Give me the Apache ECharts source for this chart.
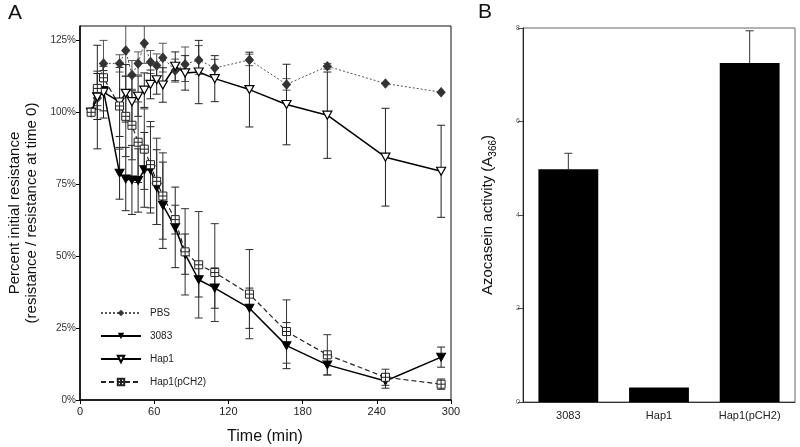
<!DOCTYPE html>
<html><head><meta charset="utf-8">
<script src="https://cdn.jsdelivr.net/npm/echarts@6/dist/echarts.min.js"></script>
<style>html,body{margin:0;padding:0;background:#fff}#c{width:800px;height:447px}</style>
</head><body><div id="c"></div>
<script>
// ---- Panel A data ----
const times = [9,14,19,32,37,42,47,52,57,62,67,77,85,96,109,137,167,200,247,292];
const pbs = [100,105,117,117,121.5,113,117,124,117.5,116.3,119,114.5,116.7,118.2,115.4,118.2,109.7,116,110,107];
const pbsErr = [0,4,8,3,9,5,4,7,4,4,5,4,6,5,3,2,2,1,0,0];
const hap1 = [100,105.3,107,103.6,106.6,103.7,105.6,107.7,109.7,111.3,109.5,116,113.7,114,111.7,107.9,102.7,99,84.4,79.5];
const hap1Err = [0,18,9,12,10,9,7,6,5,5,6,5,6,11,8,13,14,15,17,16];
const s3083 = [100,105.5,107.5,78.8,76.8,76.5,76.3,80,80,74,67.7,60,50.7,41.8,38.9,31.9,18.9,12.2,6.6,14.9];
const s3083Err = [0,8,7,9,11,12,11,13,15,13,15,14,7,6,7,7,8,3.5,2.5,3.5];
const pch2 = [100,108.3,112,102.2,98.6,95.5,89.6,87.2,81.8,76,70.9,62.7,51.5,47,44.3,36.8,23.8,15.7,7.9,5.5];
const pch2Err = [0,6,5,15,14,12,14,14,15,15,15,5,15,18.5,17,15.5,11,7,2.8,1.8];
const seriesNames = ['PBS','3083','Hap1','Hap1(pCH2)'];
const xTicksA = [0,60,120,180,240,300];
const yTicksA = [0,25,50,75,100,125];
// ---- Panel B data ----
const barCats = ['3083','Hap1','Hap1(pCH2)'];
const barVals = [4.98,0.31,7.25];
const barErr = [0.34,0,0.69];
const yTicksB = [0,2,4,6,8];

const FONT = '"Liberation Sans", Arial, Helvetica, sans-serif';
const triDown = 'path://M0,0L10,0L5,9Z';
const sqCross = 'path://M0,0H10V10H0Z M5,0V10 M0,5H10';

function pairs(v){ return times.map((t,i)=>[t, v[i]]); }
function triples(v,e){ return times.map((t,i)=>[t, v[i], e[i]]); }

function errRender(color, capW, upOnly){
  return function(params, api){
    const x = api.value(0), y = api.value(1), e = api.value(2);
    if (!e) return null;
    const top = api.coord([x, y + e]);
    const bot = upOnly ? api.coord([x, y]) : api.coord([x, y - e]);
    const hw = capW / 2;
    const st = {stroke: color, lineWidth: 1};
    const ch = [
      {type:'line', shape:{x1:top[0], y1:top[1], x2:bot[0], y2:bot[1]}, style:st},
      {type:'line', shape:{x1:top[0]-hw, y1:top[1], x2:top[0]+hw, y2:top[1]}, style:st}
    ];
    if (!upOnly) ch.push({type:'line', shape:{x1:bot[0]-hw, y1:bot[1], x2:bot[0]+hw, y2:bot[1]}, style:st});
    return {type:'group', children: ch};
  };
}

function errSeries(v, e, color){
  return {type:'custom', xAxisIndex:0, yAxisIndex:0, data: triples(v,e), renderItem: errRender(color, 8, false), z: 1, silent:true, clip:true};
}

const chart = echarts.init(document.getElementById('c'), null, {renderer:'canvas'});
chart.setOption({
  animation: false,
  backgroundColor: '#fff',
  textStyle: {fontFamily: FONT},
  grid: [
    {left: 80, right: 349, top: 26, bottom: 47, show: true, borderColor: '#111', borderWidth: 1, containLabel:false},
    {left: 523, right: 5, top: 28, bottom: 45, show: true, borderColor: '#666', borderWidth: 1, containLabel:false}
  ],
  xAxis: [
    {type:'value', gridIndex:0, min:0, max:300, interval:60,
     axisLine:{show:true, onZero:false, lineStyle:{color:'#000', width:1.5}},
     axisTick:{show:true, inside:false, length:4, lineStyle:{color:'#000'}},
     axisLabel:{fontSize:11, color:'#222', margin:6, fontFamily:FONT, customValues: xTicksA},
     splitLine:{show:false}},
    {type:'category', gridIndex:1, data: barCats,
     axisLine:{show:true, lineStyle:{color:'#333', width:1}},
     axisTick:{show:false},
     axisLabel:{fontSize:11, color:'#222', margin:8, fontFamily:FONT},
     splitLine:{show:false}}
  ],
  yAxis: [
    {type:'value', gridIndex:0, min:0, max:130,
     axisLine:{show:true, onZero:false, lineStyle:{color:'#000', width:1.5}},
     axisTick:{show:true, inside:false, length:4, lineStyle:{color:'#000'}, customValues: yTicksA},
     axisLabel:{fontSize:10, color:'#333', margin:4, fontFamily:FONT, customValues: yTicksA, formatter: v => v + '%'},
     splitLine:{show:false}},
    {type:'value', gridIndex:1, min:0, max:8, interval:2,
     axisLine:{show:true, lineStyle:{color:'#222', width:1}},
     axisTick:{show:true, inside:false, length:5, lineStyle:{color:'#444'}},
     axisLabel:{fontSize:7, color:'#555', margin:3, fontFamily:FONT},
     splitLine:{show:false}}
  ],
  legend: {
    show: true, orient:'vertical', left: 100, top: 308, itemWidth: 40, itemHeight: 8, itemGap: 13,
    padding: 0, data: seriesNames,
    textStyle:{fontSize:10, color:'#222', fontFamily:FONT, padding:[0,0,0,4]}
  },
  series: [
    errSeries(pbs, pbsErr, '#555'),
    errSeries(s3083, s3083Err, '#222'),
    errSeries(hap1, hap1Err, '#222'),
    errSeries(pch2, pch2Err, '#333'),
    {name:'PBS', type:'line', xAxisIndex:0, yAxisIndex:0, data: pairs(pbs), z:3,
     symbol:'diamond', symbolSize:[8,9], itemStyle:{color:'#333', borderColor:'#333'},
     lineStyle:{color:'#555', width:1, type:[2,2]}},
    {name:'3083', type:'line', xAxisIndex:0, yAxisIndex:0, data: pairs(s3083), z:3,
     symbol: triDown, symbolSize:[9,8], itemStyle:{color:'#000', borderColor:'#000'},
     lineStyle:{color:'#000', width:1.5}},
    {name:'Hap1', type:'line', xAxisIndex:0, yAxisIndex:0, data: pairs(hap1), z:3,
     symbol: triDown, symbolSize:[9,8], itemStyle:{color:'#fff', borderColor:'#000', borderWidth:1.2},
     lineStyle:{color:'#000', width:1.5}},
    {name:'Hap1(pCH2)', type:'line', xAxisIndex:0, yAxisIndex:0, data: pairs(pch2), z:3,
     symbol: sqCross, symbolSize:[8,8], itemStyle:{color:'#fff', borderColor:'#222', borderWidth:1},
     lineStyle:{color:'#222', width:1.2, type:[5,3]}},
    {type:'bar', xAxisIndex:1, yAxisIndex:1, data: barVals, barWidth:'66%',
     itemStyle:{color:'#000'}, z:2},
    {type:'custom', xAxisIndex:1, yAxisIndex:1, z:1, silent:true,
     data: barCats.map((c,i)=>[i, barVals[i], barErr[i]]),
     renderItem: errRender('#333', 8, true)}
  ],
  graphic: [
    {type:'text', left: 8, top: 3, style:{text:'A', font:'21px '+FONT, fill:'#111'}},
    {type:'text', left: 478, top: 2, style:{text:'B', font:'21px '+FONT, fill:'#111'}},
    {type:'text', x: 15, y: 213, rotation: Math.PI/2,
     style:{text:'Percent initial resistance', font:'15px '+FONT, fill:'#111', align:'center', verticalAlign:'middle'}},
    {type:'text', x: 32, y: 213, rotation: Math.PI/2,
     style:{text:'(resistance / resistance at time 0)', font:'15px '+FONT, fill:'#111', align:'center', verticalAlign:'middle'}},
    {type:'text', x: 265, y: 437,
     style:{text:'Time (min)', font:'16px '+FONT, fill:'#111', align:'center', verticalAlign:'middle'}},
    {type:'text', x: 488, y: 215, rotation: Math.PI/2,
     style:{text:'{a|Azocasein activity (A}{s|366}{a|)}', align:'center', verticalAlign:'middle',
       rich:{a:{fontSize:15, fontFamily:FONT, fill:'#111', color:'#111', lineHeight:20, verticalAlign:'middle'},
             s:{fontSize:10, fontFamily:FONT, color:'#111', lineHeight:20, verticalAlign:'bottom', padding:[6,0,0,0]}}}}
  ]
});
</script></body></html>
